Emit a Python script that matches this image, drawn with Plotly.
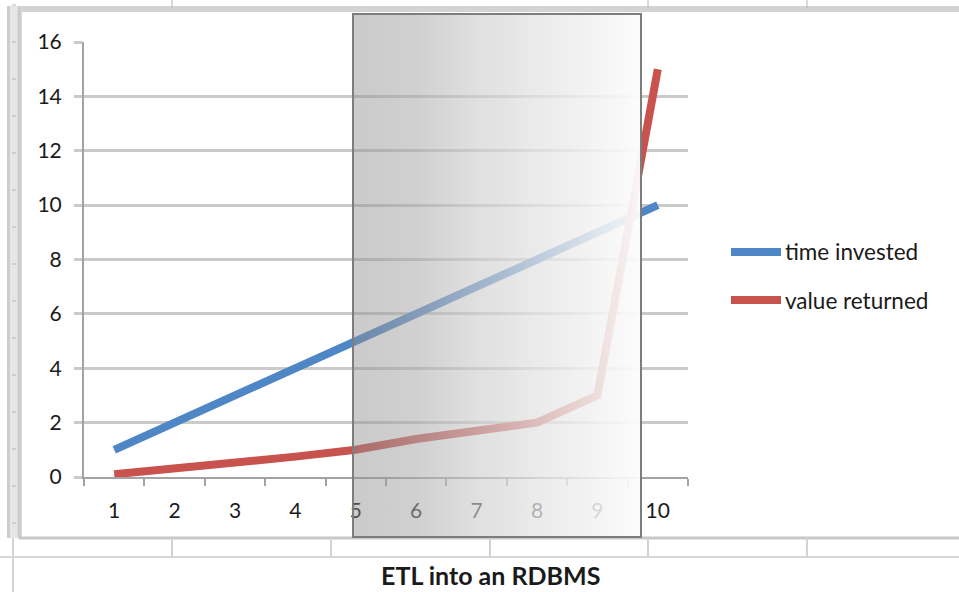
import base64
import plotly.graph_objects as go

# ---- data ----
categories = ["1", "2", "3", "4", "5", "6", "7", "8", "9", "10"]
time_invested = [1, 2, 3, 4, 5, 6, 7, 8, 9, 10]
value_returned = [0.1, 0.3, 0.5, 0.75, 1.0, 1.4, 1.7, 2.0, 3.0, 15.0]
series_names = ["time invested", "value returned"]
chart_title = "ETL into an RDBMS"

BLUE = "#4f86c6"
RED = "#c8524e"
FONT = "Lato"
TXT = "#1a1a1a"

W, H = 959, 592
L, R, T, B = 84, 271, 42, 115
PW, PH = W - L - R, H - T - B


def px(x):
    return (x - L) / PW


def py(y):
    return (H - B - y) / PH


fig = go.Figure()
fig.add_trace(go.Scatter(x=categories, y=time_invested, mode="lines",
                         name=series_names[0], line=dict(color=BLUE, width=8)))
fig.add_trace(go.Scatter(x=categories, y=value_returned, mode="lines",
                         name=series_names[1], line=dict(color=RED, width=8)))

shapes = []


def line(x0, y0, x1, y1, color, width, layer="below"):
    shapes.append(dict(type="line", xref="paper", yref="paper",
                       x0=px(x0), y0=py(y0), x1=px(x1), y1=py(y1),
                       line=dict(color=color, width=width), layer=layer))


def rect(x0, y0, x1, y1, fill, layer="below", lc=None, lw=0):
    shapes.append(dict(type="rect", xref="paper", yref="paper",
                       x0=px(x0), y0=py(y0), x1=px(x1), y1=py(y1),
                       fillcolor=fill, layer=layer,
                       line=dict(color=lc or "rgba(0,0,0,0)", width=lw)))


# spreadsheet frame around the embedded chart
rect(8, 6, W, 12, "#d3d3d3")
rect(7, 6, 22, 538, "#e6e6e6")
line(8.5, 6, 8.5, 538, "#cdcdcd", 3)
line(19.5, 6, 19.5, 538, "#cdcdcd", 4)
line(13, 538, 13, H, "#d4d4d4", 2)
for yy in range(5, 538, 37):
    line(12, yy, 16, yy, "#b4b4b4", 1)
for xx in (172, 648, 807):
    line(xx, 0, xx, 8, "#b4b4b4", 1)
line(19, 538, W, 538, "#c8c8c8", 3)
line(0, 557, W, 557, "#d8d8d8", 2)
for xx in (172, 331, 490, 648, 807):
    line(xx, 538, xx, 557, "#d2d2d2", 2)

# shaded gradient panel (grey, fading to white) over the middle of the chart
gx0, gx1, gy0, gy1 = 353, 641, 14, 537
grad_stops = [(0.00, 140, 0.45), (0.22, 172, 0.56), (0.43, 205, 0.62),
              (0.64, 228, 0.74), (0.85, 243, 0.87), (1.00, 252, 0.96)]
stops_svg = "".join(
    f'<stop offset="{o}" stop-color="rgb({c},{c},{c})" stop-opacity="{a}"/>'
    for o, c, a in grad_stops)
svg = (f'<svg xmlns="http://www.w3.org/2000/svg" width="{gx1 - gx0}" height="{gy1 - gy0}" '
       f'preserveAspectRatio="none">'
       f'<defs><linearGradient id="g" x1="0" y1="0" x2="1" y2="0">{stops_svg}</linearGradient></defs>'
       f'<rect x="0" y="0" width="100%" height="100%" fill="url(#g)"/></svg>')
svg_uri = "data:image/svg+xml;base64," + base64.b64encode(svg.encode()).decode()

images = [dict(source=svg_uri, xref="paper", yref="paper",
               x=px(gx0), y=py(gy0), sizex=(gx1 - gx0) / PW, sizey=(gy1 - gy0) / PH,
               xanchor="left", yanchor="top", sizing="stretch", layer="above")]
rect(gx0, gy0, gx1, gy1, "rgba(0,0,0,0)", layer="above", lc="#7d7d7d", lw=2)

# legend swatches
line(731, 252, 781, 252, BLUE, 8)
line(731, 300, 781, 300, RED, 8)

annotations = [
    dict(text=series_names[0], xref="paper", yref="paper", x=px(783), y=py(252),
         xanchor="left", yanchor="middle", showarrow=False,
         font=dict(family=FONT, size=22.5, color=TXT)),
    dict(text=series_names[1], xref="paper", yref="paper", x=px(783), y=py(300),
         xanchor="left", yanchor="middle", showarrow=False,
         font=dict(family=FONT, size=22.5, color=TXT)),
    dict(text=f"<b>{chart_title}</b>", xref="paper", yref="paper", x=px(490), y=py(575),
         xanchor="center", yanchor="middle", showarrow=False, borderpad=0,
         font=dict(family=FONT, size=25, color=TXT)),
]

fig.update_layout(
    template="none",
    width=W, height=H,
    margin=dict(l=L, r=R, t=T, b=B, pad=0),
    paper_bgcolor="white", plot_bgcolor="rgba(0,0,0,0)",
    showlegend=False,
    shapes=shapes, annotations=annotations, images=images,
    font=dict(family=FONT, size=16, color=TXT),
)
fig.update_xaxes(
    type="category", range=[-0.5, 9.5], showgrid=False, zeroline=False,
    showline=True, linecolor="#a3a3a3", linewidth=2,
    ticks="outside", tickson="boundaries", ticklen=7, tickwidth=2, tickcolor="#a3a3a3",
    ticklabelstandoff=14, tickfont=dict(family=FONT, size=21, color=TXT),
)
fig.update_yaxes(
    range=[0, 16], dtick=2, tick0=0, showgrid=True, gridcolor="#cacaca", gridwidth=3,
    zeroline=False, showline=True, linecolor="#a3a3a3", linewidth=2,
    ticks="outside", ticklen=8, tickwidth=3, tickcolor="#cacaca",
    ticklabelstandoff=8, tickfont=dict(family=FONT, size=21, color=TXT),
)

fig.write_html("out.html")
